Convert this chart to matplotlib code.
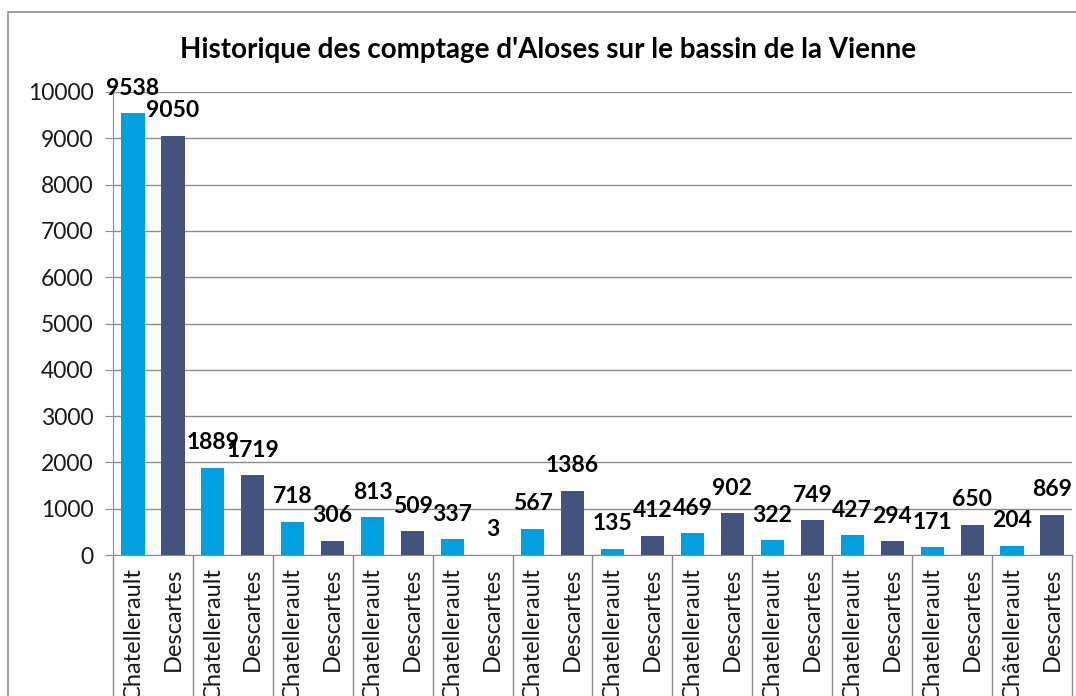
import matplotlib.pyplot as plt
from matplotlib.patches import Rectangle
import numpy as np

plt.rcParams['font.family'] = ['Lato', 'DejaVu Sans']

# donnees de comptage, paires Chatellerault / Descartes
stations = ['Chatellerault', 'Descartes'] * 11 + ['Châtellerault', 'Descartes']
comptages = [9538, 9050, 1889, 1719, 718, 306, 813, 509, 337, 3, 567, 1386,
             135, 412, 469, 902, 322, 749, 427, 294, 171, 650, 204, 869]
yticks = [0, 1000, 2000, 3000, 4000, 5000, 6000, 7000, 8000, 9000, 10000]

col_chat = '#00A0E0'
col_desc = '#44547F'
grey = '#8C8C8C'

fig = plt.figure(figsize=(10.76, 6.96), dpi=100)
ax = fig.add_axes([113/1076, 1 - 555/696, (1072 - 113)/1076, (555 - 92)/696])

x = np.arange(len(comptages))
colors = [col_chat if i % 2 == 0 else col_desc for i in range(len(comptages))]
bars = ax.bar(x, comptages, width=0.58, color=colors, zorder=3)

for b, v in zip(bars, comptages):
    ax.annotate(str(v), (b.get_x() + b.get_width()/2, v), xytext=(0, 18),
                textcoords='offset points', ha='center', va='center',
                fontsize=16.5, fontweight='bold', color='black', zorder=5,
                annotation_clip=False)

ax.set_xlim(-0.5, len(comptages) - 0.5)
ax.set_ylim(0, 10000)
ax.set_yticks(yticks)
ax.set_yticklabels([str(t) for t in yticks])
ax.grid(axis='y', color=grey, lw=1, zorder=0)

ax.set_xticks(x)
ax.set_xticklabels(stations, rotation=90, fontsize=17, color='#1a1a1a')
# separateurs des annees sous l'axe
ax.set_xticks(np.arange(-0.5, len(comptages), 2), minor=True)
ax.tick_params(axis='x', which='major', length=0, pad=9)
ax.tick_params(axis='x', which='minor', length=110, color=grey, width=1)
ax.tick_params(axis='y', length=6, color=grey, labelsize=16.5, pad=8,
               labelcolor='#1a1a1a')

for s in ['top', 'right']:
    ax.spines[s].set_visible(False)
ax.spines['left'].set_color(grey)
ax.spines['bottom'].set_color(grey)

fig.text(548/1076, 1 - 50/696, "Historique des comptage d'Aloses sur le bassin de la Vienne",
         ha='center', va='center', fontsize=20, fontweight='bold')

# cadre du graphique
fig.patches.append(Rectangle((8/1076, -0.1), 1.2, 1.1 - 12/696, transform=fig.transFigure,
                             fill=False, edgecolor=grey, lw=1.2))

fig.savefig('out.png', dpi=100)
